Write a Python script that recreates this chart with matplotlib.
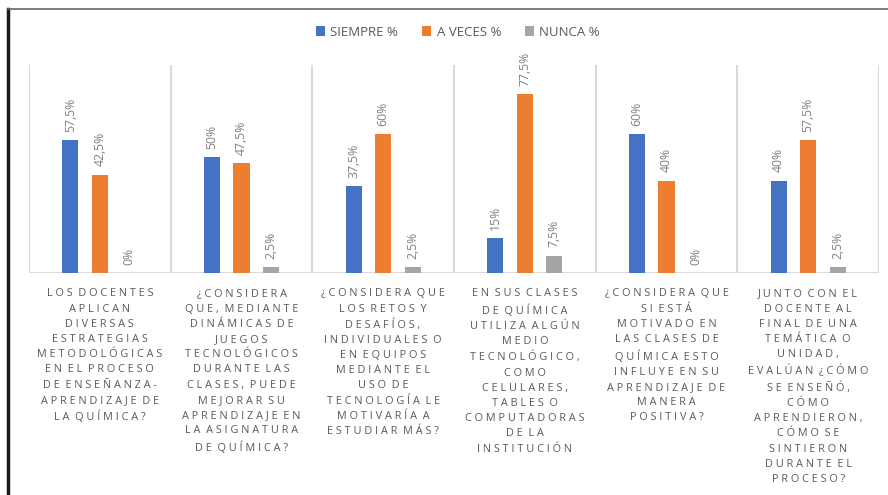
import matplotlib
matplotlib.use('Agg')
import matplotlib.pyplot as plt
import numpy as np
from matplotlib.lines import Line2D

###############################################
### Datos

categorias = [
    "LOS DOCENTES\nAPLICAN\nDIVERSAS\nESTRATEGIAS\nMETODOLÓGICAS\nEN EL PROCESO\nDE ENSEÑANZA-\nAPRENDIZAJE DE\nLA QUÍMICA?",
    "¿CONSIDERA\nQUE, MEDIANTE\nDINÁMICAS DE\nJUEGOS\nTECNOLÓGICOS\nDURANTE LAS\nCLASES, PUEDE\nMEJORAR SU\nAPRENDIZAJE EN\nLA ASIGNATURA\nDE QUÍMICA?",
    "¿CONSIDERA QUE\nLOS RETOS Y\nDESAFÍOS,\nINDIVIDUALES O\nEN EQUIPOS\nMEDIANTE EL\nUSO DE\nTECNOLOGÍA LE\nMOTIVARÍA A\nESTUDIAR MÁS?",
    "EN SUS CLASES\nDE QUÍMICA\nUTILIZA ALGÚN\nMEDIO\nTECNOLÓGICO,\nCOMO\nCELULARES,\nTABLES O\nCOMPUTADORAS\nDE LA\nINSTITUCIÓN",
    "¿CONSIDERA QUE\nSI ESTÁ\nMOTIVADO EN\nLAS CLASES DE\nQUÍMICA ESTO\nINFLUYE EN SU\nAPRENDIZAJE DE\nMANERA\nPOSITIVA?",
    "JUNTO CON EL\nDOCENTE AL\nFINAL DE UNA\nTEMÁTICA O\nUNIDAD,\nEVALÚAN ¿CÓMO\nSE ENSEÑÓ,\nCÓMO\nAPRENDIERON,\nCÓMO SE\nSINTIERON\nDURANTE EL\nPROCESO?",
]

siempre = [57.5, 50, 37.5, 15, 60, 40]
a_veces = [42.5, 47.5, 60, 77.5, 40, 57.5]
nunca = [0, 2.5, 2.5, 7.5, 0, 2.5]

series = [("SIEMPRE %", siempre, '#4472C4'),
          ("A VECES %", a_veces, '#ED7D31'),
          ("NUNCA %", nunca, '#A5A5A5')]

###############################################
### Utilidades

def espaciar(txt):
    # letras separadas como en Excel
    lineas = []
    for linea in txt.split('\n'):
        palabras = [' '.join(p) for p in linea.split(' ')]
        lineas.append('  '.join(palabras))
    return '\n'.join(lineas)

def etiqueta(v):
    return ('%g' % v).replace('.', ',') + '%'

###############################################
### Figura

plt.rcParams['font.family'] = ['Open Sans', 'DejaVu Sans']

fig = plt.figure(figsize=(8.88, 4.95), dpi=100)
ax = fig.add_axes([29/888, 1 - 273/495, 850/888, 208/495])

x = np.arange(len(categorias))
ancho = 0.113
paso = 0.208

for i, (nombre, vals, color) in enumerate(series):
    pos = x + (i - 1) * paso
    barras = ax.bar(pos, vals, ancho, color=color, label=nombre, zorder=3)
    for b, v in zip(barras, vals):
        ax.annotate(etiqueta(v), (b.get_x() + b.get_width() / 2, v),
                    xytext=(0, 6), textcoords='offset points',
                    rotation=90, ha='center', va='bottom',
                    fontsize=8.8, color='#808080')

ax.set_xlim(-0.5, len(categorias) - 0.5)
ax.set_ylim(0, 90)

# separadores de categoria
for s in np.arange(-0.5, len(categorias), 1.0):
    ax.axvline(s, color='#D9D9D9', lw=1.5, zorder=1)
ax.axhline(0, color='#D9D9D9', lw=1.5, zorder=2)

for lado in ax.spines.values():
    lado.set_visible(False)
ax.set_yticks([])
ax.set_xticks(x)
ax.set_xticklabels([espaciar(c) for c in categorias], fontsize=7.8,
                   color='#595959', linespacing=1.53, va='top')
ax.tick_params(axis='x', length=0, pad=11)

leg = ax.legend(loc='center', bbox_to_anchor=(458/888, 1 - 32/495),
                bbox_transform=fig.transFigure, ncol=3, frameon=False,
                fontsize=9.5, handlelength=0.7, handleheight=0.7,
                handletextpad=0.4, columnspacing=1.8)
for t in leg.get_texts():
    t.set_color('#595959')

# marco
fig.add_artist(Line2D([8/888, 8/888], [0, 1 - 9/495], color='#1a1a1a', lw=2.5,
                      transform=fig.transFigure))
fig.add_artist(Line2D([8/888, 1], [1 - 9/495, 1 - 9/495], color='#666666', lw=1.2,
                      transform=fig.transFigure))

plt.savefig('out.png', dpi=100)
